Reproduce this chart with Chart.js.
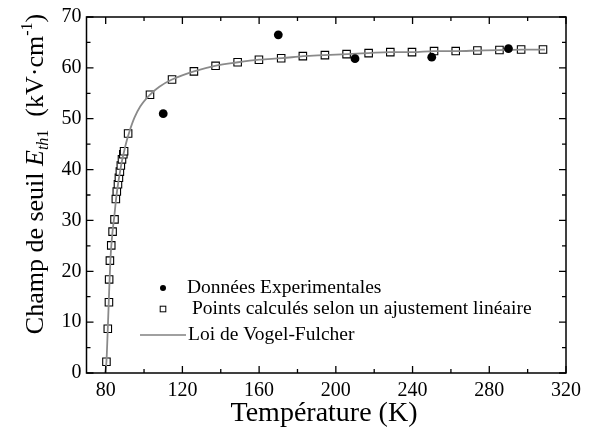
<!DOCTYPE html>
<html>
<head>
<meta charset="utf-8">
<script src="https://cdn.jsdelivr.net/npm/chart.js@4"></script>
<style>
html,body{margin:0;padding:0;background:#fff;}
#wrap{width:589px;height:435px;position:relative;}
</style>
</head>
<body>
<div id="wrap"><canvas id="c" width="589" height="435"></canvas></div>
<script>
// Experimental data (filled circles)
const expT = [110, 170, 210, 250, 290];
const expE = [51.0, 66.5, 61.8, 62.1, 63.8];

// Points computed by linear fit (open squares)
const calcT = [80.4, 81.1, 81.7, 81.8, 82.2, 82.9, 83.6, 84.6, 85.3, 85.8, 86.4, 86.9, 87.4, 87.9, 88.5, 89.2, 89.6,
  91.7, 103.1, 114.6, 126.0, 137.3, 148.8, 159.9, 171.5, 182.8, 194.3, 205.6, 217.1, 228.4, 239.7, 251.2, 262.5, 273.8, 285.3, 296.6, 308.0];
const calcE = [2.2, 8.7, 13.9, 18.4, 22.1, 25.1, 27.8, 30.2, 34.2, 35.7, 37.1, 38.4, 39.6, 40.8, 42.0, 43.0, 43.6,
  47.1, 54.7, 57.7, 59.3, 60.4, 61.1, 61.6, 61.9, 62.3, 62.5, 62.7, 62.9, 63.1, 63.1, 63.3, 63.3, 63.4, 63.5, 63.6, 63.6];

// Vogel-Fulcher curve
const vfT = [79.7, 80.4, 81.1, 81.8, 82.5, 83.5, 84.5, 85.5, 86.5, 87.5, 88.5, 89.5, 91.0, 92.5, 95.0, 98.0, 103.0, 108.0, 114.6,
  126.0, 137.0, 149.0, 160.0, 172.0, 183.0, 194.0, 206.0, 217.0, 228.0, 240.0, 251.0, 263.0, 274.0, 285.0, 297.0, 309.0];
const vfE = [0.0, 2.2, 8.7, 16.0, 22.5, 27.5, 30.8, 34.5, 37.3, 39.6, 41.7, 43.4, 45.7, 47.6, 50.2, 52.4, 54.7, 56.3, 57.7,
  59.3, 60.4, 61.1, 61.6, 61.9, 62.3, 62.5, 62.7, 62.9, 63.1, 63.1, 63.3, 63.3, 63.4, 63.5, 63.6, 63.6];

// Axis ticks
const xTicks = [80, 120, 160, 200, 240, 280, 320];
const xMinor = [100, 140, 180, 220, 260, 300];
const yTicks = [0, 10, 20, 30, 40, 50, 60, 70];
const yMinor = [5, 15, 25, 35, 45, 55, 65];

const legendLabels = ['Données Experimentales', 'Points calculés selon un ajustement linéaire', 'Loi de Vogel-Fulcher'];
const xTitle = 'Température (K)';

const SERIF = '"Liberation Serif", "Times New Roman", serif';

function pts(xs, ys) { return xs.map((x, i) => ({x: x, y: ys[i]})); }

const framePlugin = {
  id: 'frame',
  afterDraw(chart) {
    const ctx = chart.ctx;
    const a = chart.chartArea;
    const xs = chart.scales.x, ys = chart.scales.y;
    ctx.save();
    ctx.strokeStyle = '#000';
    ctx.lineWidth = 1.5;
    ctx.strokeRect(a.left, a.top, a.right - a.left, a.bottom - a.top);
    ctx.lineWidth = 1.3;
    const major = 7, minor = 4;
    function vt(v, len) {
      const px = xs.getPixelForValue(v);
      ctx.beginPath();
      ctx.moveTo(px, a.bottom); ctx.lineTo(px, a.bottom - len);
      ctx.moveTo(px, a.top); ctx.lineTo(px, a.top + len);
      ctx.stroke();
    }
    function ht(v, len) {
      const py = ys.getPixelForValue(v);
      ctx.beginPath();
      ctx.moveTo(a.left, py); ctx.lineTo(a.left + len, py);
      ctx.moveTo(a.right, py); ctx.lineTo(a.right - len, py);
      ctx.stroke();
    }
    xTicks.forEach(v => vt(v, major));
    xMinor.forEach(v => vt(v, minor));
    yTicks.forEach(v => ht(v, major));
    yMinor.forEach(v => ht(v, minor));

    // Legend
    ctx.fillStyle = '#000';
    ctx.font = '19.5px ' + SERIF;
    ctx.textBaseline = 'middle';
    ctx.textAlign = 'left';
    const lx = 163;
    const rows = [288, 309, 335];
    ctx.beginPath(); ctx.arc(lx, rows[0], 3, 0, Math.PI * 2); ctx.fill();
    ctx.fillText(legendLabels[0], 187, rows[0]);
    ctx.lineWidth = 1;
    ctx.strokeRect(lx - 2.8, rows[1] - 2.8, 5.6, 5.6);
    ctx.fillText(legendLabels[1], 192, rows[1]);
    ctx.strokeStyle = '#808080';
    ctx.lineWidth = 1.5;
    ctx.beginPath(); ctx.moveTo(140, rows[2]); ctx.lineTo(186, rows[2]); ctx.stroke();
    ctx.fillText(legendLabels[2], 188, rows[2]);

    // X title
    ctx.font = '28px ' + SERIF;
    ctx.textAlign = 'center';
    ctx.textBaseline = 'alphabetic';
    ctx.fillText(xTitle, 324, 421);

    // Y title with rich text
    ctx.translate(43, 174);
    ctx.rotate(-Math.PI / 2);
    const parts = [
      {t: 'Champ de seuil ', f: '26px ' + SERIF, dy: 0},
      {t: 'E', f: 'italic 26px ' + SERIF, dy: 0},
      {t: 'th', f: 'italic 16px ' + SERIF, dy: 5},
      {t: '1', f: '16px ' + SERIF, dy: 5},
      {t: '  (kV·cm', f: '26px ' + SERIF, dy: 0},
      {t: '-1', f: '16px ' + SERIF, dy: -11},
      {t: ')', f: '26px ' + SERIF, dy: 0}
    ];
    let total = 0;
    parts.forEach(p => { ctx.font = p.f; p.w = ctx.measureText(p.t).width; total += p.w; });
    let x = -total / 2;
    ctx.textAlign = 'left';
    parts.forEach(p => { ctx.font = p.f; ctx.fillText(p.t, x, p.dy); x += p.w; });
    ctx.restore();
  }
};

new Chart(document.getElementById('c'), {
  type: 'scatter',
  data: {
    datasets: [
      {
        label: legendLabels[0],
        data: pts(expT, expE),
        pointStyle: 'circle', pointRadius: 4.4,
        backgroundColor: '#000', borderColor: '#000', borderWidth: 0,
        order: 0
      },
      {
        label: legendLabels[2],
        data: pts(vfT, vfE),
        showLine: true, pointRadius: 0, borderColor: '#8a8a8a', borderWidth: 1.8,
        cubicInterpolationMode: 'monotone',
        order: 1
      },
      {
        label: legendLabels[1],
        data: pts(calcT, calcE),
        pointStyle: 'rect', pointRadius: 5.3,
        backgroundColor: '#fff', borderColor: '#000', borderWidth: 1.1,
        order: 2
      }
    ]
  },
  options: {
    responsive: false,
    animation: false,
    devicePixelRatio: 1,
    layout: {padding: {top: 17, right: 23, left: 0, bottom: 0}},
    plugins: {legend: {display: false}, tooltip: {enabled: false}},
    scales: {
      x: {
        type: 'linear', min: 70, max: 320,
        grid: {display: false, drawTicks: false},
        border: {display: false},
        afterBuildTicks(s) { s.ticks = xTicks.map(v => ({value: v})); },
        afterFit(s) { s.height = 62; },
        ticks: {font: {family: SERIF, size: 20}, color: '#000', padding: 6, maxRotation: 0}
      },
      y: {
        type: 'linear', min: 0, max: 70,
        grid: {display: false, drawTicks: false},
        border: {display: false},
        afterBuildTicks(s) { s.ticks = yTicks.map(v => ({value: v})); },
        afterFit(s) { s.width = 86.5; },
        ticks: {font: {family: SERIF, size: 20}, color: '#000', padding: 5}
      }
    }
  },
  plugins: [framePlugin]
});
</script>
</body>
</html>
